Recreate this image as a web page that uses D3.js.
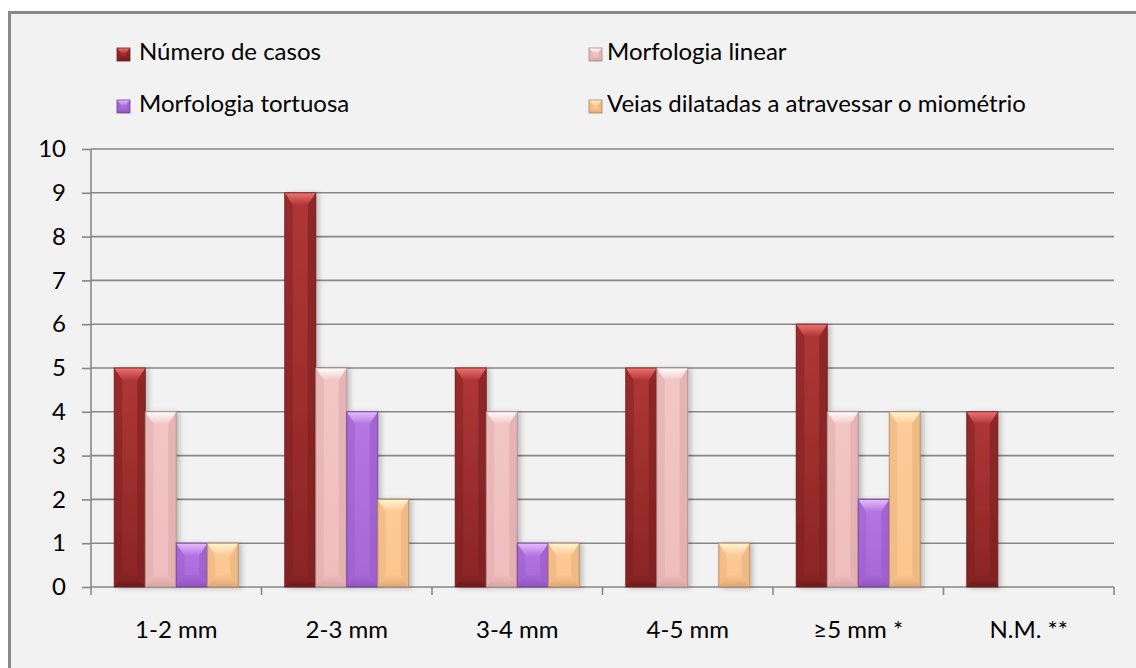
<!DOCTYPE html>
<html>
<head>
<meta charset="utf-8">
<script src="https://cdn.jsdelivr.net/npm/d3@7/dist/d3.min.js"></script>
<style>
  html, body { margin: 0; padding: 0; background: #ffffff; }
  svg { display: block; }
  text { font-family: Lato, "Open Sans", sans-serif; fill: #000; }
</style>
</head>
<body>
<svg id="chart" width="1136" height="668"></svg>
<script>
// Categories (vein calibre) and the four counted series
const categories = ["1-2 mm", "2-3 mm", "3-4 mm", "4-5 mm", "≥5 mm *", "N.M. **"];
const seriesNames = ["Número de casos", "Morfologia linear", "Morfologia tortuosa", "Veias dilatadas a atravessar o miométrio"];
const numeroCasos = [5, 9, 5, 5, 6, 4];
const morfologiaLinear = [4, 5, 4, 5, 4, 0];
const morfologiaTortuosa = [1, 4, 1, 0, 2, 0];
const veiasDilatadas = [1, 2, 1, 1, 4, 0];
const yTicks = [0, 1, 2, 3, 4, 5, 6, 7, 8, 9, 10];

const seriesValues = [numeroCasos, morfologiaLinear, morfologiaTortuosa, veiasDilatadas];

// Bevel palette per series: body top/bottom, light top facet, dark bottom facet, outline
const palette = [
  { bodyTop: "#b03737", bodyBot: "#8a2525", side: "#7c1f1f", hi: "#ef7474", lo: "#6e1b1b", edge: "#6a1a1a" },
  { bodyTop: "#f3c6c6", bodyBot: "#efbdbd", side: "#dca8a8", hi: "#ffffff", lo: "#d6a3a3", edge: "#a98585" },
  { bodyTop: "#b577e2", bodyBot: "#a867d6", side: "#9a5ac8", hi: "#e6bcfc", lo: "#8f52bd", edge: "#6b3f92" },
  { bodyTop: "#fdcb98", bodyBot: "#fac58f", side: "#e8b07a", hi: "#fff5d2", lo: "#dba574", edge: "#a9835c" }
];

const svg = d3.select("#chart");
const defs = svg.append("defs");

// soft shadow falling to the right of each bar
const shadow = defs.append("filter").attr("id", "barShadow")
  .attr("x", "-20%").attr("y", "-10%").attr("width", "160%").attr("height", "130%");
shadow.append("feDropShadow").attr("dx", 3).attr("dy", 1)
  .attr("stdDeviation", 2.5).attr("flood-color", "#000").attr("flood-opacity", 0.22);

palette.forEach((p, i) => {
  const body = defs.append("linearGradient").attr("id", "body" + i)
    .attr("x1", 0).attr("y1", 0).attr("x2", 0).attr("y2", 1);
  body.append("stop").attr("offset", "0%").attr("stop-color", p.bodyTop);
  body.append("stop").attr("offset", "100%").attr("stop-color", p.bodyBot);
  const top = defs.append("linearGradient").attr("id", "top" + i)
    .attr("x1", 0).attr("y1", 0).attr("x2", 0).attr("y2", 1);
  top.append("stop").attr("offset", "0%").attr("stop-color", p.hi);
  top.append("stop").attr("offset", "100%").attr("stop-color", p.bodyTop);
  const bot = defs.append("linearGradient").attr("id", "bot" + i)
    .attr("x1", 0).attr("y1", 0).attr("x2", 0).attr("y2", 1);
  bot.append("stop").attr("offset", "0%").attr("stop-color", p.bodyBot);
  bot.append("stop").attr("offset", "100%").attr("stop-color", p.lo);
});

// chart frame (continues past the right and bottom of the view)
svg.append("rect").attr("x", 9.5).attr("y", 12.5).attr("width", 1200).attr("height", 700)
  .attr("fill", "#f2f2f2").attr("stroke", "#888888").attr("stroke-width", 3);

const plot = { left: 91, right: 1114, top: 149, bottom: 587 };

const x = d3.scaleBand().domain(categories).range([plot.left, plot.right]).paddingInner(0).paddingOuter(0);
const xs = d3.scaleBand().domain(d3.range(seriesNames.length)).range([0, x.bandwidth()])
  .paddingInner(0).paddingOuter(0.75);
const y = d3.scaleLinear().domain([0, 10]).range([plot.bottom, plot.top]);

const gridColor = "#878787";
const fontSize = "24px";

// horizontal gridlines
svg.append("g").selectAll("line").data(yTicks.filter(t => t > 0)).join("line")
  .attr("x1", plot.left).attr("x2", plot.right)
  .attr("y1", d => y(d)).attr("y2", d => y(d))
  .attr("stroke", gridColor).attr("stroke-width", 1.6);

// y axis
const yAxis = svg.append("g").attr("transform", `translate(${plot.left},0)`)
  .call(d3.axisLeft(y).tickValues(yTicks).tickSize(9).tickPadding(16).tickFormat(d3.format("d")));
yAxis.select(".domain").attr("stroke", gridColor).attr("stroke-width", 1.6)
  .attr("d", `M0,${plot.top}V${plot.bottom + 8}`);
yAxis.selectAll(".tick line").attr("stroke", gridColor).attr("stroke-width", 1.6);
yAxis.selectAll(".tick text").style("font-family", "Lato, sans-serif").style("font-size", fontSize).attr("fill", "#000");

// x axis: ticks between categories
const boundaries = categories.map(c => x(c)).concat([plot.right]);
const xAxisG = svg.append("g");
xAxisG.append("line").attr("x1", plot.left).attr("x2", plot.right)
  .attr("y1", plot.bottom).attr("y2", plot.bottom)
  .attr("stroke", gridColor).attr("stroke-width", 1.6);
xAxisG.selectAll("line.tk").data(boundaries.slice(1)).join("line").attr("class", "tk")
  .attr("x1", d => d).attr("x2", d => d).attr("y1", plot.bottom).attr("y2", plot.bottom + 8)
  .attr("stroke", gridColor).attr("stroke-width", 1.6);
xAxisG.selectAll("text").data(categories).join("text")
  .attr("x", d => x(d) + x.bandwidth() / 2).attr("y", 638)
  .attr("text-anchor", "middle").style("font-size", fontSize).text(d => d);

// draws a bevelled box into group g
function bevelBox(g, i, x0, y0, w, h, bx, by) {
  const p = palette[i];
  const x1 = x0 + w, y1 = y0 + h;
  g.append("rect").attr("x", x0).attr("y", y0).attr("width", w).attr("height", h)
    .attr("fill", `url(#body${i})`);
  const pts = a => a.map(q => q.join(",")).join(" ");
  // side facets
  g.append("polygon").attr("points", pts([[x0, y0], [x0 + bx, y0 + by], [x0 + bx, y1 - by], [x0, y1]]))
    .attr("fill", p.side).attr("opacity", 0.45);
  g.append("polygon").attr("points", pts([[x1, y0], [x1 - bx, y0 + by], [x1 - bx, y1 - by], [x1, y1]]))
    .attr("fill", p.side).attr("opacity", 0.6);
  // bottom facet
  g.append("polygon").attr("points", pts([[x0, y1], [x1, y1], [x1 - bx, y1 - by], [x0 + bx, y1 - by]]))
    .attr("fill", `url(#bot${i})`).attr("opacity", 0.9);
  // top facet
  g.append("polygon").attr("points", pts([[x0, y0], [x1, y0], [x1 - bx, y0 + by], [x0 + bx, y0 + by]]))
    .attr("fill", `url(#top${i})`);
  g.append("rect").attr("x", x0).attr("y", y0).attr("width", w).attr("height", h)
    .attr("fill", "none").attr("stroke", p.edge).attr("stroke-width", 1).attr("stroke-opacity", 0.8);
}

// bars
const barData = [];
categories.forEach((c, ci) => {
  seriesValues.forEach((vals, si) => {
    if (vals[ci] > 0) barData.push({ c, si, v: vals[ci] });
  });
});
const barsG = svg.append("g");
barData.forEach(d => {
  const g = barsG.append("g").attr("filter", "url(#barShadow)");
  const x0 = x(d.c) + xs(d.si);
  const y0 = y(d.v);
  bevelBox(g, d.si, x0, y0, xs.bandwidth(), y(0) - y0, 8, 12);
});

// legend
const legendPos = [
  { sx: 117, tx: 139, y: 60 },
  { sx: 589, tx: 607, y: 60 },
  { sx: 117, tx: 139, y: 112 },
  { sx: 589, tx: 607, y: 112 }
];
const legend = svg.append("g");
seriesNames.forEach((name, i) => {
  const lp = legendPos[i];
  const g = legend.append("g");
  bevelBox(g, i, lp.sx, lp.y - 12, 13, 13, 4, 5);
  legend.append("text").attr("x", lp.tx).attr("y", lp.y).style("font-size", fontSize).text(name);
});
</script>
</body>
</html>
